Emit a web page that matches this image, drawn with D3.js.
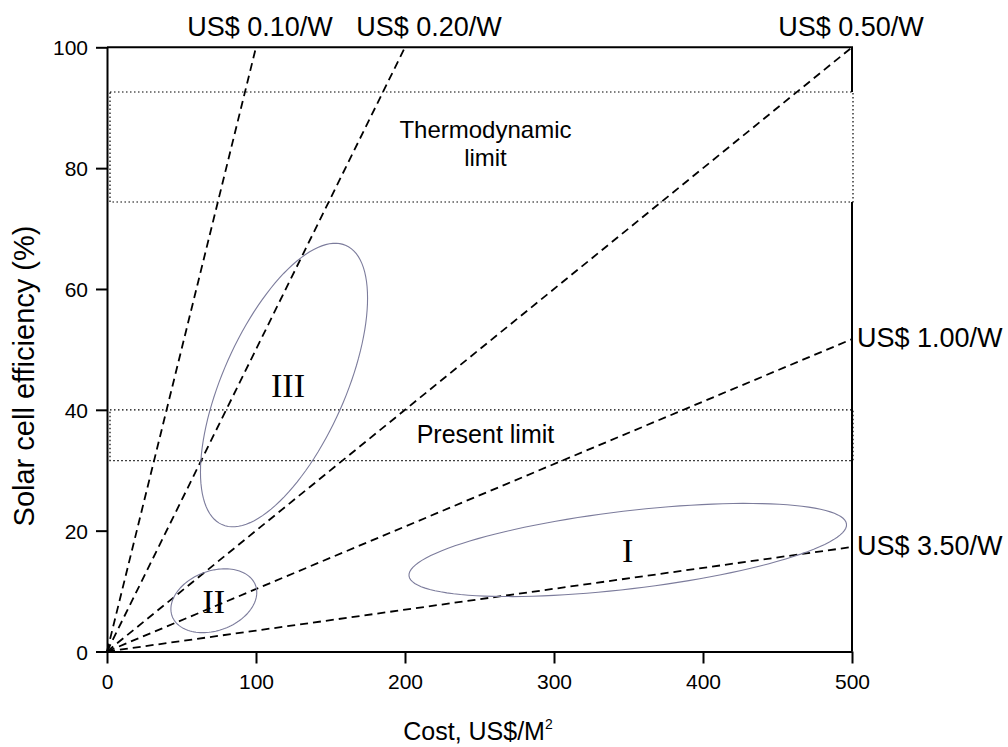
<!DOCTYPE html>
<html>
<head>
<meta charset="utf-8">
<script src="https://cdn.jsdelivr.net/npm/d3@7"></script>
<style>
  body { margin: 0; background: #fff; }
  text { font-family: "Liberation Sans", Arial, sans-serif; fill: #000; }
</style>
</head>
<body>
<script>
// axis ticks
const costTicks = [0, 100, 200, 300, 400, 500]
const effTicks = [0, 20, 40, 60, 80, 100]

// iso-price lines, all start at the origin
const priceLabels = ['US$ 0.10/W', 'US$ 0.20/W', 'US$ 0.50/W', 'US$ 1.00/W', 'US$ 3.50/W']
const priceEndCost = [100, 200, 500, 500, 500]
const priceEndEff = [100, 100, 100, 51.7, 17.3]

// limit bands (efficiency %)
const bandNames = ['Thermodynamic limit', 'Present limit']
const bandHigh = [92.6, 40.0]
const bandLow = [74.4, 31.6]

// generation regions, ellipses given in data units (centre + two half axes)
const regionNames = ['I', 'II', 'III']
const regionCost = [349.5, 71.7, 118.8]
const regionEff = [16.8, 8.4, 44.1]
const regionMajor = [[146.8, 4.3], [27.9, 2.6], [41.6, 23.1]]
const regionMinor = [[3.1, -6.4], [7.2, -4.6], [37.6, -4.1]]

const svg = d3.select('body').append('svg')
  .attr('width', 1008)
  .attr('height', 747)

const x = d3.scaleLinear().domain([0, 500]).range([107, 852])
const y = d3.scaleLinear().domain([0, 100]).range([651.5, 47.3])

// axes
const xAxis = svg.append('g')
  .attr('transform', 'translate(0,' + y(0) + ')')
  .call(d3.axisBottom(x).tickValues(costTicks).tickSize(12).tickSizeOuter(0).tickPadding(11))
const yAxis = svg.append('g')
  .attr('transform', 'translate(' + x(0) + ',0)')
  .call(d3.axisLeft(y).tickValues(effTicks).tickSize(11).tickSizeOuter(0).tickPadding(8))

;[xAxis, yAxis].forEach(g => {
  g.select('.domain').attr('stroke', '#000').attr('stroke-width', 2)
  g.selectAll('.tick line').attr('stroke', '#000').attr('stroke-width', 2)
  g.selectAll('.tick text').attr('font-size', 21).attr('font-family', '"Liberation Sans", Arial, sans-serif').attr('fill', '#000')
})
yAxis.selectAll('.tick text').attr('dy', '0.36em')

// top and right frame
svg.append('path')
  .attr('d', d3.line()([[x(0), y(100)], [x(500), y(100)], [x(500), y(0)]]))
  .attr('fill', 'none')
  .attr('stroke', '#000')
  .attr('stroke-width', 2)

// dotted limit bands
svg.selectAll('.band')
  .data(bandNames)
  .join('rect')
  .attr('class', 'band')
  .attr('x', x(0) + 3)
  .attr('width', (d, i) => x(500) + 1 - x(0) - 3)
  .attr('y', (d, i) => y(bandHigh[i]))
  .attr('height', (d, i) => y(bandLow[i]) - y(bandHigh[i]))
  .attr('fill', (d, i) => i === 0 ? '#fff' : 'none')
  .attr('stroke', '#000')
  .attr('stroke-width', 1.2)
  .attr('stroke-dasharray', '1.5,2.5')

// iso-price dashed lines
svg.selectAll('.price')
  .data(priceLabels)
  .join('path')
  .attr('class', 'price')
  .attr('d', (d, i) => d3.line()([[x(0), y(0)], [x(priceEndCost[i]), y(priceEndEff[i])]]))
  .attr('fill', 'none')
  .attr('stroke', '#000')
  .attr('stroke-width', 1.8)
  .attr('stroke-dasharray', '8,5')

// price labels: the first three over the frame, the rest right of it
const topNudge = [4, 24, -1]
svg.selectAll('.price-label')
  .data(priceLabels)
  .join('text')
  .attr('class', 'price-label')
  .attr('font-size', 27)
  .attr('text-anchor', (d, i) => priceEndEff[i] === 100 ? 'middle' : 'start')
  .attr('x', (d, i) => priceEndEff[i] === 100 ? x(priceEndCost[i]) + topNudge[i] : x(priceEndCost[i]) + 5)
  .attr('y', (d, i) => priceEndEff[i] === 100 ? y(100) - 11 : y(priceEndEff[i]) + 8)
  .text(d => d)

// region ellipses
const steps = d3.range(0, 120).map(k => k / 120 * 2 * Math.PI)
svg.selectAll('.region')
  .data(regionNames)
  .join('path')
  .attr('class', 'region')
  .attr('d', (d, i) => d3.line().curve(d3.curveLinearClosed)(steps.map(t => {
    const c = regionCost[i] + regionMajor[i][0] * Math.cos(t) + regionMinor[i][0] * Math.sin(t)
    const e = regionEff[i] + regionMajor[i][1] * Math.cos(t) + regionMinor[i][1] * Math.sin(t)
    return [x(c), y(e)]
  })))
  .attr('fill', 'none')
  .attr('stroke', '#7c7c9c')
  .attr('stroke-width', 1.1)

svg.selectAll('.region-label')
  .data(regionNames)
  .join('text')
  .attr('class', 'region-label')
  .attr('x', (d, i) => x(regionCost[i]) + [0, 0, 4][i])
  .attr('y', (d, i) => y(regionEff[i]) + 12)
  .attr('text-anchor', 'middle')
  .attr('font-size', 34)
  .style('font-family', '"Liberation Serif", "Times New Roman", serif')
  .text(d => d)

// band labels
const midCost = 254
svg.append('text').attr('x', x(midCost)).attr('y', 138).attr('text-anchor', 'middle').attr('font-size', 24).text('Thermodynamic')
svg.append('text').attr('x', x(midCost)).attr('y', 166).attr('text-anchor', 'middle').attr('font-size', 24).text('limit')
svg.append('text').attr('x', x(midCost)).attr('y', 443).attr('text-anchor', 'middle').attr('font-size', 25).text('Present limit')

// axis titles
const xTitle = svg.append('text')
  .attr('x', 478)
  .attr('y', 740)
  .attr('text-anchor', 'middle')
  .attr('font-size', 25)
xTitle.append('tspan').text('Cost, US$/M')
xTitle.append('tspan').attr('font-size', 14).attr('dy', -11).text('2')

svg.append('text')
  .attr('transform', 'translate(33.5,376) rotate(-90)')
  .attr('text-anchor', 'middle')
  .attr('font-size', 29)
  .text('Solar cell efficiency (%)')
</script>
</body>
</html>
